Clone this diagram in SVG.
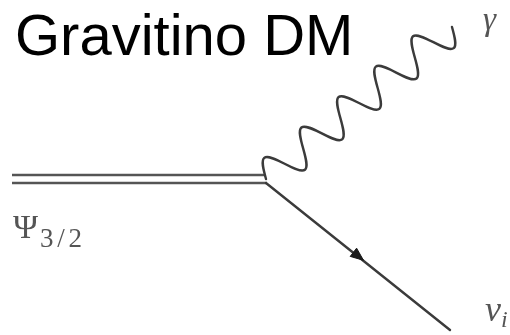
<svg xmlns="http://www.w3.org/2000/svg" width="510" height="335" viewBox="0 0 510 335">
  <defs>
    <filter id="soft" x="-10%" y="-10%" width="120%" height="120%">
      <feGaussianBlur stdDeviation="0.6"/>
    </filter>
  </defs>
  <style>
    .title { font-family: "Liberation Sans", Arial, sans-serif; font-size: 58px; fill: #000; }
    .line { fill: none; stroke: #3a3a3a; stroke-width: 2.4; stroke-linecap: round; stroke-linejoin: round; }
    .rail { fill: none; stroke: #555; stroke-width: 2.3; }
    .math { font-family: "Liberation Serif", "Times New Roman", serif; fill: #555; }
    .it { font-style: italic; }
  </style>

  <text id="title" class="title" x="15" y="55">Gravitino DM</text>

  <g id="connectors" filter="url(#soft)">
    <!-- gravitino: double line into the vertex -->
    <g id="gravitino-line">
      <line class="rail" x1="12" y1="175" x2="265" y2="175"/>
      <line class="rail" x1="12" y1="183" x2="267" y2="183"/>
    </g>
    <!-- photon: sine wave along the outgoing direction -->
    <g id="photon-line" transform="translate(266,179) rotate(-39.26)">
      <path class="line" d="M0,0
        c3.917,-8.965 7.664,-17.5 12.01,-17.5 c4.346,0 8.093,8.535 12.01,17.5 c3.917,8.965 7.664,17.5 12.01,17.5 c4.346,0 8.093,-8.535 12.01,-17.5
        c3.917,-8.965 7.664,-17.5 12.01,-17.5 c4.346,0 8.093,8.535 12.01,17.5 c3.917,8.965 7.664,17.5 12.01,17.5 c4.346,0 8.093,-8.535 12.01,-17.5
        c3.917,-8.965 7.664,-17.5 12.01,-17.5 c4.346,0 8.093,8.535 12.01,17.5 c3.917,8.965 7.664,17.5 12.01,17.5 c4.346,0 8.093,-8.535 12.01,-17.5
        c3.917,-8.965 7.664,-17.5 12.01,-17.5 c4.346,0 8.093,8.535 12.01,17.5 c3.917,8.965 7.664,17.5 12.01,17.5 c4.346,0 8.093,-8.535 12.01,-17.5
        c3.917,-8.965 7.664,-17.5 12.01,-17.5 c4.346,0 8.093,8.535 12.01,17.5 c3.917,8.965 7.664,17.5 12.01,17.5 c4.346,0 8.093,-8.535 12.01,-17.5"/>
    </g>
    <!-- neutrino: fermion line with arrow -->
    <g id="neutrino-line">
      <line class="line" x1="266" y1="183" x2="450" y2="330"/>
      <polygon points="363.5,260.3 350.2,256.4 356.6,248.2" fill="#1a1a1a" stroke="#1a1a1a" stroke-width="1" stroke-linejoin="round"/>
    </g>
  </g>

  <g id="gravitino" filter="url(#soft)">
    <text class="math" x="13" y="238" font-size="34">Ψ<tspan x="40" y="247" font-size="27" textLength="42" lengthAdjust="spacing">3/2</tspan></text>
  </g>
  <g id="photon" filter="url(#soft)">
    <text class="math it" x="483" y="30" font-size="33" fill="#666">γ</text>
  </g>
  <g id="neutrino" filter="url(#soft)">
    <text class="math it" x="485" y="321" font-size="36">ν<tspan font-size="24" dy="6">i</tspan></text>
  </g>
</svg>
